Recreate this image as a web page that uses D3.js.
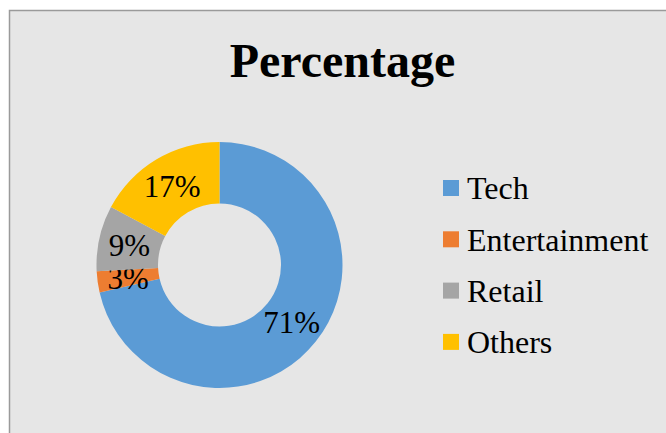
<!DOCTYPE html>
<html>
<head>
<meta charset="utf-8">
<style>
  body { margin: 0; background: #fff; }
  svg { display: block; }
  text { font-family: "Liberation Serif", "Times New Roman", serif; }
</style>
</head>
<body>
<script src="https://cdn.jsdelivr.net/npm/d3@7"></script>
<script>

var categories = ["Tech", "Entertainment", "Retail", "Others"];
var values = [71.4, 2.8, 8.6, 17.2];
var colors = ["#5b9bd5", "#ed7d31", "#a5a5a5", "#ffc000"];
var title = "Percentage";

var width = 666, height = 433;

var svg = d3.select("body").append("svg")
    .attr("width", width)
    .attr("height", height);

// chart area frame (runs off the right and bottom edge)
svg.append("rect")
    .attr("x", 9.5)
    .attr("y", 10.5)
    .attr("width", 700)
    .attr("height", 500)
    .attr("fill", "#e6e6e6")
    .attr("stroke", "#9a9a9a")
    .attr("stroke-width", 1.5);

svg.append("text")
    .attr("x", 342.5)
    .attr("y", 77)
    .attr("text-anchor", "middle")
    .style("font-size", "48px")
    .style("font-weight", "bold")
    .text(title);

var data = categories.map(function(c, i) { return {name: c, value: values[i], color: colors[i]}; });

var pie = d3.pie()
    .sort(null)
    .value(function(d) { return d.value; });

var arc = d3.arc()
    .innerRadius(61.5)
    .outerRadius(123);

var total = d3.sum(values);
var pct = d3.format(".0%");

var g = svg.append("g").attr("transform", "translate(219.5,265)");

var slices = g.selectAll("g.slice")
    .data(pie(data))
    .enter().append("g")
    .attr("class", "slice");

slices.append("path")
    .attr("d", arc)
    .attr("fill", function(d) { return d.data.color; });

slices.append("text")
    .attr("transform", function(d) { return "translate(" + arc.centroid(d) + ")"; })
    .attr("text-anchor", "middle")
    .attr("dy", "0.35em")
    .style("font-size", "31px")
    .text(function(d) { return pct(d.data.value / total); });

// legend
var legend = svg.append("g").attr("transform", "translate(443,188)");

var item = legend.selectAll("g")
    .data(data)
    .enter().append("g")
    .attr("transform", function(d, i) { return "translate(0," + (i * 51.3) + ")"; });

item.append("rect")
    .attr("x", 0)
    .attr("y", -8)
    .attr("width", 16)
    .attr("height", 16)
    .attr("fill", function(d) { return d.color; });

item.append("text")
    .attr("x", 24)
    .attr("y", 0)
    .attr("dy", "0.35em")
    .style("font-size", "32px")
    .text(function(d) { return d.name; });

</script>
</body>
</html>
